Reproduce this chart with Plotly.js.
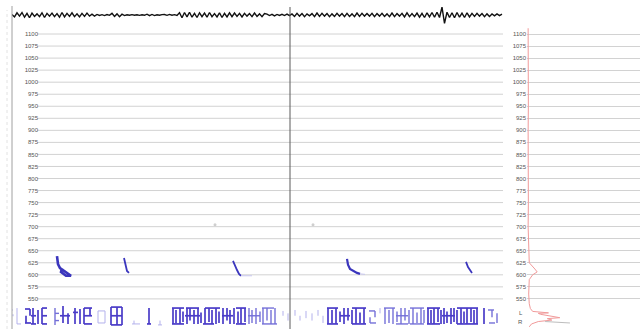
<!DOCTYPE html>
<html>
<head>
<meta charset="utf-8">
<script src="https://cdn.plot.ly/plotly-3.0.1.min.js"></script>
<style>html,body{margin:0;padding:0;background:#fff;}#chart{width:643px;height:329px;}</style>
</head>
<body>
<div id="chart"></div>
<script>
// ---------- DATA ----------
// frequency ticks (shared by main panel and side spectrum)
const yTicks = [1100,1075,1050,1025,1000,975,950,925,900,875,850,825,800,775,750,725,700,675,650,625,600,575,550];
const yTickText = yTicks.map(String);

// waveform (top strip), sampled every waveStep seconds from waveStart
const waveStart = 0;
const waveStep = 0.025;
const waveAmp = [
  0.1,-0.35,0.4,-0.2,0.45,-0.4,0.3,-0.5,0.35,-0.25, 0.2,-0.3,0.4,-0.45,0.3,-0.2,0.35,-0.3,0.25,-0.4,
  0.45,-0.35,0.3,-0.25,0.4,-0.3,0.2,-0.35,0.3,-0.25, 0.35,-0.2,0.15,-0.2,
  0.1,-0.08,0.06,-0.1,0.08,-0.06,0.3,-0.25,0.2,-0.3,0.15,-0.1, 0.05,-0.05,0.06,-0.05,0.05,-0.06,0.04,-0.05,
  0.15,-0.12,0.1,-0.1,0.05,-0.04,0.06,
  0.08,-0.06,0.1,-0.05,0.06,-0.08,
  0.4,-0.5,0.45,-0.35,0.5,-0.4,0.3,-0.45,0.4,-0.3, 0.35,-0.4,0.45,-0.3,0.25,-0.35,0.4,-0.45,0.3,-0.35,
  0.4,-0.3,0.35,-0.25,0.3,-0.35,0.3,-0.2,0.25,-0.3, 0.35,-0.25,0.2,-0.3,0.25,
  0.15,-0.1,0.12,-0.15,0.1,-0.08,0.12,-0.1,0.15,-0.12,
  0.2,-0.25,0.3,-0.2,0.25,-0.3,0.2,-0.15,0.25,-0.3,
  0.35,-0.25,0.3,-0.2,0.25,-0.3,0.2,-0.25,0.3,-0.2,
  0.25,-0.3,0.3,-0.25,0.2,-0.3,0.35,-0.25,0.3,-0.2,
  0.25,-0.2,0.3,-0.3,0.25,-0.2,0.3,-0.25,0.2,-0.3,
  0.35,-0.3,0.25,-0.2,0.3,-0.35,0.4,-0.3,0.25,-0.3,
  0.35,-0.4,0.3,-0.45,0.4,-0.35,0.45,-0.4,0.5,-0.45,
  1.4,-1.5,0.5,-0.45,0.4,-0.5,0.45,-0.4,0.35,-0.45,
  0.4,-0.35,0.3,-0.25,0.3,-0.2,0.25,-0.3,0.2,-0.25,
  0.2,-0.15,0.2,-0.1,0.15
];

// cursor time
const cursorTime = 2.78;

// pitch contour fragments (time s, frequency)
const hook1T = [0.45,0.46,0.48,0.51,0.55,0.59,0.54,0.49,0.50];
const hook1F = [639,622,614,610,604,598,598,606,614];
const hook2T = [1.12,1.13,1.14,1.15,1.17];
const hook2F = [635,623,614,608,604];
const hook3T = [2.21,2.23,2.25,2.27,2.29];
const hook3F = [629,618,610,602,598];
const hook4T = [3.35,3.36,3.38,3.41,3.45,3.48];
const hook4F = [633,621,612,608,604,602];
const hook5T = [4.54,4.56,4.58,4.60];
const hook5F = [627,616,610,604];
const tailT = [2.29,2.40,null,3.48,3.53];
const tailF = [598,598,null,602,601];
const faintT = [2.03,3.01];
const faintF = [704,704];

// annotation tier strokes: dark group
const darkVT   = [0.14,0.18,0.21,0.26,0.30,0.51,0.56,0.63,0.68,0.72,0.78,0.99,1.05,1.10,1.37,
  1.61,1.64,1.68,1.71,1.75,1.78,1.82,1.86,1.89,1.93,1.97,2.00,2.04,2.07,2.11,2.15,2.18,2.22,2.26,2.29,2.33,
  3.16,3.20,3.24,3.28,3.32,3.36,3.40,3.44,3.48,3.52,
  4.16,4.19,4.22,4.26,4.29,4.32,4.35,4.39,4.42,4.45,4.49,4.52,4.55,4.59,4.62,4.65,4.72];
const darkVTop = [515,529,531,527,531,535,520,531,529,531,531,533,533,533,531,
  531,527,531,524,531,531,527,531,522,531,531,527,531,524,531,531,527,531,524,531,531,
  531,527,531,524,531,531,527,531,522,531,
  531,527,531,531,527,531,524,531,531,527,531,524,531,531,527,531,531];
const darkVBot = [500,515,498,498,498,500,498,498,498,498,515,496,496,496,498,
  498,500,498,502,498,505,498,498,500,498,502,498,498,500,498,505,498,498,500,498,502,
  498,500,498,502,498,505,498,498,500,498,
  498,500,498,502,498,498,500,498,502,498,498,500,498,502,498,498,498];
const darkHT0 = [0.13,0.13,0.19,0.19,0.30,0.30,0.30,0.48,0.61,0.72,0.72,0.72,0.99,0.99,0.99,1.35,
  1.60,1.60,1.73,1.74,1.91,1.93,2.10,2.24,2.24,3.15,3.15,3.28,3.40,3.40,4.15,4.15,4.30,4.45,4.45];
const darkHT1 = [0.18,0.19,0.24,0.24,0.35,0.35,0.35,0.58,0.66,0.80,0.80,0.80,1.10,1.10,1.10,1.39,
  1.72,1.72,1.88,1.87,2.02,2.08,2.21,2.34,2.34,3.26,3.26,3.38,3.54,3.54,4.28,4.28,4.43,4.66,4.66];
const darkHF  = [529,500,515,498,531,515,498,515,522,531,515,498,533,515,496,498,
  531,498,515,531,498,531,515,531,498,531,498,515,531,498,531,498,515,531,498];

// medium group
const midVT   = [0.43,2.37,2.40,2.44,2.48,2.51,2.55,2.59,2.63,3.58,3.63,3.73,3.77,3.81,3.85,3.89,3.93,3.97,4.01,4.05,4.09,4.12,4.80,4.85];
const midVTop = [531,531,527,531,524,531,531,527,531,512,525,531,527,531,524,531,531,527,531,522,531,527,527,520];
const midVBot = [496,498,500,498,502,498,505,498,498,500,512,498,500,498,502,498,505,498,498,500,498,500,512,500];
const midHT0 = [0.43,0.43,2.36,2.50,2.50,3.57,3.58,3.72,3.84,3.84,3.98,3.98,4.76,4.77];
const midHT1 = [0.47,0.47,2.48,2.65,2.62,3.63,3.64,3.83,3.96,3.96,4.12,4.12,4.82,4.83];
const midHF  = [520,505,515,498,531,525,500,531,515,498,531,498,527,500];

// light group
const lightVT   = [0.00,0.01,0.05,0.86,0.93,1.22,1.48,2.71,2.76,2.83,2.88,2.94,3.00,3.06,3.11,3.68];
const lightVTop = [529,518,531,525,525,505,505,525,520,527,515,525,520,527,515,531];
const lightVBot = [525,514,498,500,500,498,496,515,505,515,505,510,505,515,500,520];
const lightHT0 = [0.05,0.86,0.86,1.20,1.46];
const lightHT1 = [0.09,0.93,0.93,1.28,1.50];
const lightHF  = [498,525,500,498,496];

// side spectrum (amplitude vs frequency)
const specF = [1112,1050,1000,950,900,850,800,750,700,650,625,612,606,600,590,560,540,530,524,521,520,518,514,511,509,506,503,498,492];
const specA = [0.01,0.012,0.01,0.012,0.01,0.012,0.01,0.012,0.01,0.015,0.02,0.07,0.09,0.05,0.02,0.015,0.02,0.03,0.05,0.19,0.10,0.12,0.20,0.29,0.18,0.22,0.10,0.04,0.02];
const spec2F = [503,502,501,500];
const spec2A = [0.16,0.25,0.32,0.38];
const sideLabels = ['L','R'];
const sideLabelF = [521,502];

// ---------- BUILD ----------
function strokes(vT, vTop, vBot, hT0, hT1, hF) {
  const x = [], y = [];
  vT.forEach((t, i) => { x.push(t, t, null); y.push(vTop[i], vBot[i], null); });
  hT0.forEach((t, i) => { x.push(t, hT1[i], null); y.push(hF[i], hF[i], null); });
  return {x, y};
}
const dark = strokes(darkVT, darkVTop, darkVBot, darkHT0, darkHT1, darkHF);
const mid = strokes(midVT, midVTop, midVBot, midHT0, midHT1, midHF);
const light = strokes(lightVT, lightVTop, lightVBot, lightHT0, lightHT1, lightHF);
const waveT = waveAmp.map((_, i) => waveStart + i * waveStep);

const hookColor = '#3b36bd';
const traces = [
  {x: waveT, y: waveAmp, xaxis: 'x', yaxis: 'y2', mode: 'lines', line: {color: '#111111', width: 1.4}, hoverinfo: 'skip'},
  {x: light.x, y: light.y, mode: 'lines', line: {color: '#b3b1ec', width: 1}, hoverinfo: 'skip'},
  {x: mid.x, y: mid.y, mode: 'lines', line: {color: '#7470d8', width: 1.4}, hoverinfo: 'skip'},
  {x: dark.x, y: dark.y, mode: 'lines', line: {color: '#4a3cc8', width: 1.7}, hoverinfo: 'skip'},
  {x: hook1T, y: hook1F, mode: 'lines', line: {color: hookColor, width: 2.6}, hoverinfo: 'skip'},
  {x: hook2T, y: hook2F, mode: 'lines', line: {color: hookColor, width: 1.8}, hoverinfo: 'skip'},
  {x: hook3T, y: hook3F, mode: 'lines', line: {color: hookColor, width: 1.8}, hoverinfo: 'skip'},
  {x: hook4T, y: hook4F, mode: 'lines', line: {color: hookColor, width: 2.2}, hoverinfo: 'skip'},
  {x: hook5T, y: hook5F, mode: 'lines', line: {color: hookColor, width: 1.8}, hoverinfo: 'skip'},
  {x: tailT, y: tailF, mode: 'lines', line: {color: '#c9c8ef', width: 1}, hoverinfo: 'skip'},
  {x: faintT, y: faintF, mode: 'markers', marker: {color: '#cfcfcf', size: 3}, hoverinfo: 'skip'},
  {x: specA, y: specF, xaxis: 'x3', yaxis: 'y3', mode: 'lines', line: {color: '#f19a9a', width: 1}, hoverinfo: 'skip'},
  {x: spec2A, y: spec2F, xaxis: 'x3', yaxis: 'y3', mode: 'lines', line: {color: '#bdbdbd', width: 1}, hoverinfo: 'skip'}
];

const W = 643, H = 329;
const tickFont = {family: 'Liberation Sans, Arial, sans-serif', size: 6, color: '#555555'};
const gridColor = '#d2d2d2';
const yRange = [487.5, 1112.5];

const shapes = yTicks.map(v => ({
  type: 'line', xref: 'paper', yref: 'y', x0: 37 / W, x1: 503 / W, y0: v, y1: v,
  line: {color: gridColor, width: 1}, layer: 'below'
}));
shapes.push({type: 'line', xref: 'paper', yref: 'paper', x0: 12 / W, x1: 12 / W, y0: 0, y1: 1 - 6 / H, line: {color: '#a0a0a0', width: 1}});
shapes.push({type: 'line', xref: 'paper', yref: 'paper', x0: 7 / W, x1: 7 / W, y0: 0, y1: 1 - 10 / H, line: {color: '#e2e2e2', width: 1, dash: 'dot'}});
shapes.push({type: 'line', xref: 'x', yref: 'paper', x0: cursorTime, x1: cursorTime, y0: 0, y1: 1 - 7 / H, line: {color: '#5a5a5a', width: 1}});

const annotations = sideLabels.map((s, i) => ({
  text: s, xref: 'paper', yref: 'y3', x: 525 / W, y: sideLabelF[i], xanchor: 'right', yanchor: 'middle',
  showarrow: false, font: tickFont
}));

const layout = {
  width: W, height: H,
  margin: {l: 0, r: 0, t: 0, b: 0, pad: 0},
  paper_bgcolor: '#ffffff', plot_bgcolor: 'rgba(0,0,0,0)',
  showlegend: false,
  xaxis: {domain: [12 / W, 503 / W], range: [0, 4.91], anchor: 'y', showgrid: false, zeroline: false, showticklabels: false, ticks: '', showline: false, fixedrange: true},
  yaxis: {domain: [0, 1 - 28 / H], range: yRange, anchor: 'free', position: 38 / W, side: 'left',
    tickmode: 'array', tickvals: yTicks, ticktext: yTickText, tickfont: tickFont,
    showgrid: false, zeroline: false, ticks: '', showline: false, fixedrange: true},
  yaxis2: {domain: [1 - 25 / H, 1 - 5 / H], range: [-1.8, 1.8], anchor: 'x', visible: false, fixedrange: true},
  xaxis3: {domain: [527 / W, 640 / W], range: [0, 1], anchor: 'y3', showgrid: false, zeroline: false, showticklabels: false, ticks: '', showline: false, fixedrange: true},
  yaxis3: {domain: [0, 1 - 28 / H], range: yRange, anchor: 'x3', side: 'left',
    tickmode: 'array', tickvals: yTicks, ticktext: yTickText, tickfont: tickFont,
    showgrid: true, gridcolor: gridColor, gridwidth: 1, zeroline: false, ticks: '', showline: false, fixedrange: true},
  shapes: shapes,
  annotations: annotations
};

Plotly.newPlot('chart', traces, layout, {displayModeBar: false, staticPlot: true});
</script>
</body>
</html>
